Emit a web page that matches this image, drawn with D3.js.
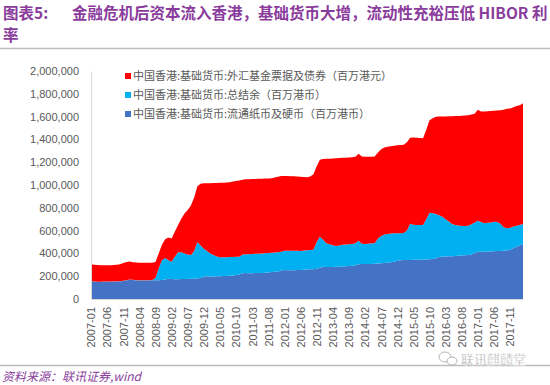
<!DOCTYPE html>
<html>
<head>
<meta charset="utf-8">
<script src="https://cdn.jsdelivr.net/npm/d3@7"></script>
<style>
  body { margin: 0; background: #fff; }
  svg { display: block; font-family: "Noto Sans CJK SC", "Noto Sans", sans-serif; }
</style>
</head>
<body>
<svg width="550" height="385"></svg>
<script>
// units: thousand 百万港元 (labels are x1000)
var firstMonth = new Date(2007, 0, 1), endMonth = new Date(2018, 3, 1);

var tickLabels = ["2007-01","2007-06","2007-11","2008-04","2008-09","2009-02","2009-07","2009-12",
  "2010-05","2010-10","2011-03","2011-08","2012-01","2012-06","2012-11","2013-04","2013-09",
  "2014-02","2014-07","2014-12","2015-05","2015-10","2016-03","2016-08","2017-01","2017-06","2017-11"];

var yTicks = [0, 200, 400, 600, 800, 1000, 1200, 1400, 1600, 1800, 2000];

var seriesNames = ["中国香港:基础货币:外汇基金票据及债券（百万港元）",
                   "中国香港:基础货币:总结余（百万港币）",
                   "中国香港:基础货币:流通纸币及硬币（百万港币）"];

// 流通纸币及硬币
var circulation = [
  155,152,150,150,151,151,152,152,153,154,157,163,
  170,167,163,162,162,163,163,164,164,165,166,172,
  178,176,174,174,175,176,176,177,178,180,185,195,
  200,198,198,199,200,201,202,204,206,210,215,225,
  228,226,226,227,228,229,231,233,236,238,242,250,
  255,252,252,253,254,255,257,258,260,262,266,275,
  282,280,280,281,282,283,285,287,289,292,296,305,
  308,306,306,307,309,311,313,316,319,322,327,335,
  340,342,342,343,344,345,345,346,347,348,350,358,
  368,372,372,374,376,378,380,382,384,386,390,405,
  415,414,415,416,417,418,420,422,424,426,432,445,
  458,470,482];

// 总结余
var balance = [
  2,2,2,2,2,2,2,2,2,2,2,2,
  2,2,2,2,2,2,2,2,21,105,174,188,
  162,151,196,236,235,224,214,209,242,320,285,245,
  220,202,187,173,166,165,165,164,163,160,156,165,
  164,167,168,169,170,171,171,171,170,170,168,165,
  169,172,172,171,170,167,168,170,170,170,234,271,
  238,210,200,191,183,187,190,191,191,190,192,206,
  177,176,179,182,181,219,240,249,251,253,249,241,
  236,238,258,317,308,305,305,304,353,409,402,387,
  367,350,328,306,282,272,265,258,256,257,265,265,
  272,261,249,252,255,260,256,238,206,194,193,190,
  184,180,176];

// 外汇基金票据及债券
var bills = [
  148,146,146,144,142,143,143,144,145,149,156,160,
  156,154,155,154,153,152,153,152,140,130,135,165,
  200,203,220,240,295,350,390,434,470,490,542,575,
  595,616,632,646,653,654,655,657,661,665,669,655,
  658,657,658,657,656,655,654,654,654,657,662,664,
  655,654,653,652,651,651,645,640,645,663,665,676,
  708,740,751,760,769,766,763,762,762,761,760,764,
  765,766,763,759,760,755,760,765,766,765,769,772,
  774,772,775,755,764,765,763,760,785,811,833,853,
  865,878,901,922,945,955,961,967,970,969,963,955,
  973,970,981,980,978,974,978,996,1030,1048,1047,1047,
  1050,1050,1059];

var months = d3.timeMonth.range(firstMonth, endMonth).map(d3.timeFormat("%Y-%m"));
var colors = { bills: "#ff0000", balance: "#00b0f0", circulation: "#4472c4" };

var table = months.map(function(m, i) {
  return { i: i, month: m, circulation: circulation[i], balance: balance[i], bills: bills[i] };
});

var svg = d3.select("svg");
var purple = "#8a3c9c";

// title
var title = svg.append("g").attr("fill", purple).attr("font-weight", "bold").attr("font-size", "15.5px");
title.append("text").attr("x", 3).attr("y", 19).text("图表5:");
title.append("text").attr("x", 72).attr("y", 19).text("金融危机后资本流入香港，基础货币大增，流动性充裕压低 HIBOR 利");
title.append("text").attr("x", 3).attr("y", 41).text("率");
svg.append("line").attr("x1", 0).attr("x2", 550).attr("y1", 48.5).attr("y2", 48.5)
   .attr("stroke", "#bdbdbd").attr("stroke-width", 1.5);

var x = d3.scaleLinear().domain([0, months.length - 1]).range([91, 523]);
var y = d3.scaleLinear().domain([0, 2000]).range([299, 71]);

var stack = d3.stack().keys(["circulation", "balance", "bills"]);
var layers = stack(table);

var area = d3.area()
  .x(function(d) { return x(d.data.i); })
  .y0(function(d) { return y(d[0]); })
  .y1(function(d) { return y(d[1]); });

svg.append("g").selectAll("path")
  .data(layers)
  .enter().append("path")
  .attr("fill", function(d) { return colors[d.key]; })
  .attr("d", area);

// y axis
var yAxis = svg.append("g")
  .attr("transform", "translate(91,0)")
  .call(d3.axisLeft(y).tickValues(yTicks).tickSize(0).tickPadding(12)
        .tickFormat(function(v) { return d3.format(",")(v * 1000); }));
yAxis.select(".domain").attr("stroke", "#d9d9d9");
yAxis.selectAll("text").attr("fill", "#595959").attr("font-size", "11px")
  .attr("font-family", "Liberation Sans, Arial, sans-serif");

// x axis
var xAxis = svg.append("g")
  .attr("transform", "translate(0,299)")
  .call(d3.axisBottom(x)
        .tickValues(tickLabels.map(function(t) { return months.indexOf(t); }))
        .tickSize(0)
        .tickFormat(function(i) { return months[i]; }));
xAxis.select(".domain").attr("stroke", "#d9d9d9");
xAxis.selectAll("text")
  .attr("fill", "#595959").attr("font-size", "11px")
  .attr("font-family", "Liberation Sans, Arial, sans-serif")
  .attr("transform", "rotate(-90)")
  .attr("text-anchor", "end")
  .attr("x", -8).attr("y", 0).attr("dy", "0.35em");

// legend
var legendKeys = ["bills", "balance", "circulation"];
var legend = svg.append("g").selectAll("g")
  .data(legendKeys)
  .enter().append("g")
  .attr("transform", function(d, i) { return "translate(125," + (76 + i * 19) + ")"; });
legend.append("rect").attr("x", 0).attr("y", -3).attr("width", 6).attr("height", 6)
  .attr("fill", function(d) { return colors[d]; });
legend.append("text").attr("x", 8).attr("y", 0).attr("dy", "0.35em")
  .attr("font-size", "11px").attr("fill", "#595959")
  .text(function(d, i) { return seriesNames[i]; });

// footer
svg.append("line").attr("x1", 0).attr("x2", 550).attr("y1", 365.5).attr("y2", 365.5)
   .attr("stroke", "#bdbdbd").attr("stroke-width", 1.5);
var wm = svg.append("g").attr("fill", "none").attr("stroke", "#b5b5b5").attr("stroke-width", 1);
wm.append("ellipse").attr("cx", 445).attr("cy", 357).attr("rx", 6).attr("ry", 5).attr("fill", "#fff");
wm.append("ellipse").attr("cx", 452).attr("cy", 361).attr("rx", 5).attr("ry", 4).attr("fill", "#fff");
svg.append("text").attr("x", 461).attr("y", 364).attr("font-size", "13px")
   .attr("fill", "#a6a6a6").attr("stroke", "#fff").attr("stroke-width", 0.3)
   .text("联讯麒麟堂");
svg.append("text").attr("x", 2).attr("y", 381).attr("font-size", "12px")
   .attr("font-style", "italic").attr("fill", purple)
   .text("资料来源：联讯证券,wind");
</script>
</body>
</html>
